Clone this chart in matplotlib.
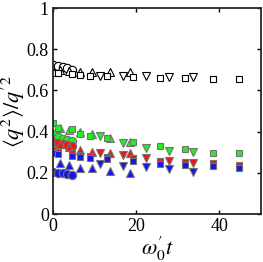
import matplotlib
matplotlib.use("Agg")
import matplotlib.pyplot as plt

plt.rcParams['font.family'] = 'Liberation Serif'
plt.rcParams['mathtext.fontset'] = 'stix'
plt.rcParams['font.size'] = 13

# times for each marker type
t_circ = [0, 1.2, 2.3, 3.4, 4.5]
t_up = [1.8, 3.8, 6.5, 9.4, 13.7, 18.5]
t_sq = [0, 1.2, 4.5, 6.5, 9.0, 13.0, 19.2, 25.7, 31.7, 38.4, 44.8]
t_dn = [11.3, 16.8, 22.5, 28.0, 33.6]

# black (open) series
k_circ = [0.725, 0.72, 0.715, 0.71, 0.70]
k_up = [0.70, 0.695, 0.69, 0.69, 0.69, 0.69]
k_sq = [0.686, 0.685, 0.68, 0.675, 0.67, 0.668, 0.665, 0.662, 0.66, 0.658, 0.657]
k_dn = [0.67, 0.67, 0.668, 0.667, 0.665]

# green
g_circ = [0.39, 0.375, 0.365, 0.36, 0.355]
g_up = [0.42, 0.41, 0.40, 0.39, 0.37, 0.35]
g_sq = [0.44, 0.42, 0.415, 0.39, 0.38, 0.37, 0.35, 0.33, 0.315, 0.295, 0.295]
g_dn = [0.38, 0.345, 0.32, 0.305, 0.30]

# red
r_circ = [0.35, 0.345, 0.34, 0.335, 0.33]
r_up = [0.34, 0.325, 0.31, 0.30, 0.295, 0.295]
r_sq = [0.31, 0.30, 0.295, 0.285, 0.28, 0.275, 0.27, 0.26, 0.255, 0.25, 0.24]
r_dn = [0.295, 0.285, 0.27, 0.26, 0.25]

# blue
b_circ = [0.205, 0.20, 0.20, 0.195, 0.19]
b_up = [0.25, 0.24, 0.225, 0.225, 0.21, 0.20]
b_sq = [0.295, 0.29, 0.28, 0.275, 0.27, 0.265, 0.26, 0.245, 0.24, 0.235, 0.225]
b_dn = [0.245, 0.235, 0.23, 0.22, 0.205]

fig = plt.figure(figsize=(2.63, 2.62), dpi=100)
ax = fig.add_axes([0.2015, 0.183, 0.79, 0.786])

series = [
    (k_circ, k_up, k_sq, k_dn, 'white', 'black'),
    (g_circ, g_up, g_sq, g_dn, '#22ee22', '0.45'),
    (r_circ, r_up, r_sq, r_dn, '#ee1515', '0.45'),
    (b_circ, b_up, b_sq, b_dn, '#1515ee', '0.45'),
]

ms = 6
for c, u, s, d, fc, ec in series:
    ax.plot(t_circ, c, 'o', ms=ms, mfc=fc, mec=ec, mew=0.8, ls='none')
    ax.plot(t_up, u, '^', ms=ms, mfc=fc, mec=ec, mew=0.8, ls='none')
    ax.plot(t_sq, s, 's', ms=ms - 1.2, mfc=fc, mec=ec, mew=0.8, ls='none')
    ax.plot(t_dn, d, 'v', ms=ms, mfc=fc, mec=ec, mew=0.8, ls='none')

ax.set_xlim(0, 50)
ax.set_ylim(0, 1)
ax.set_xticks([0, 20, 40])
ax.set_yticks([0, 0.2, 0.4, 0.6, 0.8, 1])
ax.set_yticklabels(['0', '0.2', '0.4', '0.6', '0.8', '1'])
ax.tick_params(direction='in', length=3, width=1, top=True, right=True, pad=3)
for sp in ax.spines.values():
    sp.set_linewidth(1.3)
    sp.set_color('0.15')

ax.set_xlabel(r"$\omega_0' t$", fontsize=16, labelpad=0)
ax.set_ylabel(r"$\langle q^2\rangle/q'^2$", fontsize=16, labelpad=0)

fig.savefig('out.png', dpi=100)
